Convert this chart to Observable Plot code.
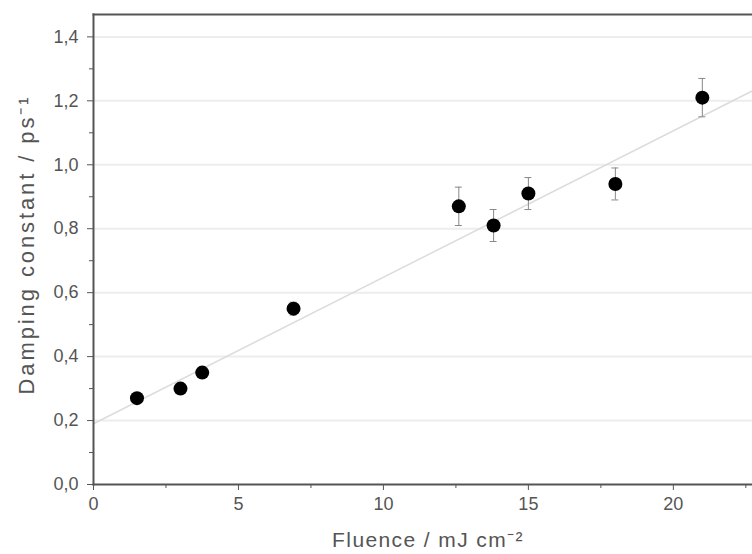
<!DOCTYPE html>
<html><head><meta charset="utf-8">
<script src="https://cdn.jsdelivr.net/npm/d3@7"></script>
<script src="https://cdn.jsdelivr.net/npm/@observablehq/plot@0.6"></script>
<style>
body{margin:0;background:#fff;} svg{display:block;}
.xlab text{letter-spacing:1.4px;}
.ylab text{letter-spacing:2.9px;}
</style>
</head><body><div id="chart"></div>
<script>
const fluence = [1.5, 3.0, 3.75, 6.9, 12.6, 13.8, 15.0, 18.0, 21.0];
const damping = [0.27, 0.30, 0.35, 0.55, 0.87, 0.81, 0.91, 0.94, 1.21];
const errors  = [0.0, 0.0, 0.0, 0.02, 0.06, 0.05, 0.05, 0.05, 0.06];
const fitX = [0, 22.7];
const fitY = [0.19, 1.23];
const xTicks = [0, 5, 10, 15, 20];
const xMinor = [2.5, 7.5, 12.5, 17.5, 22.5];
const yTicks = [0, 0.2, 0.4, 0.6, 0.8, 1.0, 1.2, 1.4];
const yMinor = [0.1, 0.3, 0.5, 0.7, 0.9, 1.1, 1.3];
const xTitle = "Fluence / mJ cm⁻²";
const yTitle = "Damping constant / ps⁻¹";

const pts = fluence.map((x, i) => ({x, y: damping[i], e: errors[i]}));
const errPts = pts.filter(d => d.e > 0);
const fit = fitX.map((x, i) => ({x, y: fitY[i]}));
const comma = d => d3.format(".1f")(d).replace(".", ",");
const axisColor = "#555";

const plot = Plot.plot({
  width: 752, height: 554,
  marginLeft: 93, marginTop: 14, marginBottom: 70, marginRight: 0,
  style: {fontFamily: "Liberation Sans, Arial, sans-serif", fontSize: "18px", color: "#555", background: "#fff"},
  x: {domain: [0, 22.73]},
  y: {domain: [0, 1.47]},
  marks: [
    Plot.ruleY(yTicks.slice(1), {stroke: "#ededed", strokeWidth: 2}),
    Plot.line(fit, {x: "x", y: "y", stroke: "#dcdcdc", strokeWidth: 1.5}),
    Plot.axisX({ticks: xTicks, tickSize: 6, tickPadding: 7, tickFormat: d3.format("d"), stroke: axisColor, fontSize: 18, label: null}),
    Plot.axisX({ticks: xMinor, tickSize: 4, tickFormat: () => "", label: null, stroke: axisColor}),
    Plot.axisY({ticks: yTicks, tickSize: 6, tickPadding: 9, tickFormat: comma, stroke: axisColor, fontSize: 18, label: null}),
    Plot.axisY({ticks: yMinor, tickSize: 4, tickFormat: () => "", label: null, stroke: axisColor}),
    Plot.text([xTitle], {className: "xlab", frameAnchor: "bottom", text: d => d, dx: 5, dy: 56, textAnchor: "middle", lineAnchor: "middle", fontSize: 21, fill: "#555"}),
    Plot.text([yTitle], {className: "ylab", frameAnchor: "left", text: d => d, dx: -67, dy: -5, rotate: -90, textAnchor: "middle", lineAnchor: "middle", fontSize: 22, fill: "#555"}),
    Plot.frame({anchor: "left", stroke: axisColor, strokeWidth: 2}),
    Plot.frame({anchor: "bottom", stroke: axisColor, strokeWidth: 2}),
    Plot.frame({anchor: "top", stroke: axisColor, strokeWidth: 2}),
    Plot.ruleX(errPts, {x: "x", y1: d => d.y - d.e, y2: d => d.y + d.e, stroke: "#888", strokeWidth: 1}),
    Plot.ruleY(errPts, {y: d => d.y - d.e, x1: d => d.x - 0.12, x2: d => d.x + 0.12, stroke: "#888", strokeWidth: 1}),
    Plot.ruleY(errPts, {y: d => d.y + d.e, x1: d => d.x - 0.12, x2: d => d.x + 0.12, stroke: "#888", strokeWidth: 1}),
    Plot.dot(pts, {x: "x", y: "y", r: 7, fill: "#000", stroke: "none"})
  ]
});
document.getElementById("chart").appendChild(plot);
</script></body></html>
